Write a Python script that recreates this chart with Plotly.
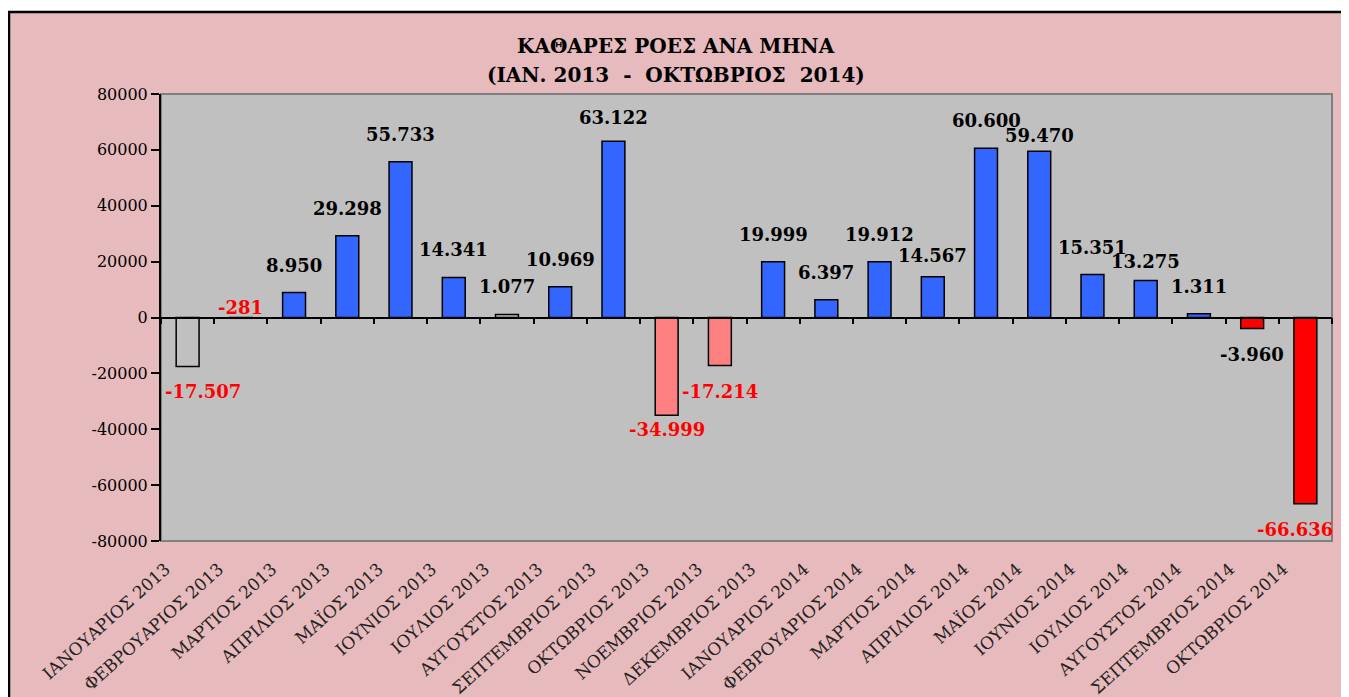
import plotly.graph_objects as go

# ---------------- data ----------------
months = [
    "ΙΑΝΟΥΑΡΙΟΣ 2013", "ΦΕΒΡΟΥΑΡΙΟΣ 2013", "ΜΑΡΤΙΟΣ 2013", "ΑΠΡΙΛΙΟΣ 2013",
    "ΜΑΪΟΣ 2013", "ΙΟΥΝΙΟΣ 2013", "ΙΟΥΛΙΟΣ 2013", "ΑΥΓΟΥΣΤΟΣ 2013",
    "ΣΕΠΤΕΜΒΡΙΟΣ 2013", "ΟΚΤΩΒΡΙΟΣ 2013", "ΝΟΕΜΒΡΙΟΣ 2013", "ΔΕΚΕΜΒΡΙΟΣ 2013",
    "ΙΑΝΟΥΑΡΙΟΣ 2014", "ΦΕΒΡΟΥΑΡΙΟΣ 2014", "ΜΑΡΤΙΟΣ 2014", "ΑΠΡΙΛΙΟΣ 2014",
    "ΜΑΪΟΣ 2014", "ΙΟΥΝΙΟΣ 2014", "ΙΟΥΛΙΟΣ 2014", "ΑΥΓΟΥΣΤΟΣ 2014",
    "ΣΕΠΤΕΜΒΡΙΟΣ 2014", "ΟΚΤΩΒΡΙΟΣ 2014",
]
net_flows = [
    -17507, -281, 8950, 29298, 55733, 14341, 1077, 10969, 63122, -34999, -17214,
    19999, 6397, 19912, 14567, 60600, 59470, 15351, 13275, 1311, -3960, -66636,
]
y_ticks = [-80000, -60000, -40000, -20000, 0, 20000, 40000, 60000, 80000]

title_line1 = "ΚΑΘΑΡΕΣ ΡΟΕΣ ΑΝΑ ΜΗΝΑ"
title_line2 = "(ΙΑΝ. 2013  -  ΟΚΤΩΒΡΙΟΣ  2014)"

# ---------------- styles ----------------
BLUE = "#3366FF"
PINK = "#FF8080"
RED = "#FF0000"
GREY = "#C0C0C0"
bar_colors = [GREY, "#000000", BLUE, BLUE, BLUE, BLUE, GREY, BLUE, BLUE, PINK, PINK,
              BLUE, BLUE, BLUE, BLUE, BLUE, BLUE, BLUE, BLUE, BLUE, RED, RED]
label_colors = ["red", "red"] + ["black"] * 7 + ["red", "red"] + ["black"] * 10 + ["red"]
# small pixel nudges of individual labels (dx, dy), dy positive = up
label_nudge = {0: (15, 0), 1: (0, -17), 8: (0, -4), 9: (0, 11), 14: (0, -6),
               16: (0, -12), 18: (0, -9), 21: (-10, 0)}

# page has an 8px body margin; figure is positioned accordingly
OFF = 8
W, H = 1349 - OFF, 697 - OFF


def xp(px):
    return (px - OFF) / W


def yp(py):
    return 1 - (py - OFF) / H


px_l, px_r, px_t, px_b = 161, 1332, 94, 541
xdom = [xp(px_l), xp(px_r)]
ydom = [yp(px_b), yp(px_t)]

serif = "DejaVu Serif"


def fmt(v):
    return f"{v:,}".replace(",", ".")


fig = go.Figure()
fig.add_trace(go.Bar(
    x=months, y=net_flows,
    marker=dict(color=bar_colors, line=dict(color="black", width=1.5)),
    xaxis="x", yaxis="y", showlegend=False, hoverinfo="x+y",
))
# invisible helper trace so the zero-line tick axis is drawn
fig.add_trace(go.Scatter(x=months, y=net_flows, xaxis="x2", yaxis="y",
                         mode="markers", marker=dict(opacity=0, size=1), showlegend=False,
                         hoverinfo="skip"))

annotations = []
for i, (m, v) in enumerate(zip(months, net_flows)):
    dx, dy = label_nudge.get(i, (0, 0))
    above = v >= 0 or i == 1
    annotations.append(dict(
        x=m, y=0 if i == 1 else v, xref="x", yref="y",
        text=f"<b>{fmt(v)}</b>", showarrow=False,
        font=dict(family=serif, size=18, color=label_colors[i]),
        yanchor="bottom" if above else "top",
        xanchor="center",
        yshift=(15 if above else -13) + dy,
        xshift=dx,
    ))
annotations.append(dict(x=xp(676), y=yp(46), xref="paper", yref="paper", showarrow=False,
                        text=f"<b>{title_line1}</b>",
                        font=dict(family=serif, size=20, color="black"),
                        xanchor="center", yanchor="middle"))
annotations.append(dict(x=xp(676), y=yp(75), xref="paper", yref="paper", showarrow=False,
                        text=f"<b>{title_line2}</b>",
                        font=dict(family=serif, size=20, color="black"),
                        xanchor="center", yanchor="middle"))

shapes = [
    # outer pink frame
    dict(type="rect", xref="paper", yref="paper", x0=xp(9), x1=xp(1346), y0=-0.03,
         y1=yp(12), fillcolor="#E7BBBD", line=dict(color="black", width=2.5),
         layer="below"),
    # plot area frame
    dict(type="rect", xref="paper", yref="paper", x0=xdom[0], x1=xdom[1],
         y0=ydom[0], y1=ydom[1], fillcolor=GREY, line=dict(color="#808080", width=2),
         layer="below"),
]

xr = [-0.5, len(months) - 0.5]
fig.update_layout(
    width=W, height=H,
    margin=dict(l=0, r=0, t=0, b=0, autoexpand=False),
    paper_bgcolor="white",
    plot_bgcolor="rgba(0,0,0,0)",
    bargap=0.57,
    xaxis=dict(domain=xdom, anchor="y", type="category", categoryorder="array",
               categoryarray=months, range=xr, tickangle=-42, showline=False, ticks="",
               showgrid=False, zeroline=False, ticklabelshift=-22, ticklabelstandoff=14,
               tickfont=dict(family=serif, size=17, color="#222222")),
    xaxis2=dict(domain=xdom, overlaying="x", anchor="free", position=(ydom[0] + ydom[1]) / 2,
                type="category", categoryorder="array", categoryarray=months, range=xr,
                showticklabels=False, ticks="outside", tickson="boundaries",
                ticklen=6, tickwidth=1.5, tickcolor="black", showline=True,
                linecolor="black", linewidth=1.5, showgrid=False, zeroline=False),
    yaxis=dict(domain=ydom, anchor="x", range=[-80000, 80000], tickvals=y_ticks,
               ticktext=[str(t) for t in y_ticks], showgrid=False, zeroline=False,
               showline=True, linecolor="black", linewidth=2, ticks="outside",
               ticklen=8, tickwidth=1.5, tickcolor="black",
               tickfont=dict(family=serif, size=16, color="black")),
    shapes=shapes,
    annotations=annotations,
    showlegend=False,
)

fig.write_html("out.html")
